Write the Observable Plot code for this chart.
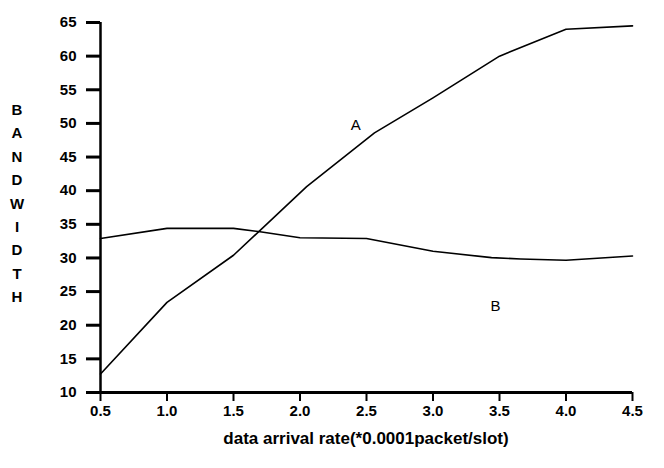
<!DOCTYPE html>
<html>
<head>
<meta charset="utf-8">
<script src="https://cdn.jsdelivr.net/npm/d3@7"></script>
<script src="https://cdn.jsdelivr.net/npm/@observablehq/plot@0.6"></script>
<style>
  html, body { margin: 0; padding: 0; background: #fff; }
  #wrap { position: relative; width: 664px; height: 468px; font-family: "Liberation Sans", Arial, sans-serif; }
  #ylab { position: absolute; left: 9px; top: 98px; width: 16px; text-align: center; font-size: 15px; font-weight: bold; line-height: 23.4px; color: #000; }
  #xlab { position: absolute; left: 100px; width: 532px; top: 429px; text-align: center; font-size: 17px; font-weight: bold; color: #000; }
</style>
</head>
<body>
<div id="wrap"><div id="ylab"></div><div id="xlab"></div></div>
<script>
// Data
const rates = [0.5, 1.0, 1.5, 2.05, 2.56, 3.0, 3.5, 4.0, 4.5];
const bandwidthA = [12.75, 23.4, 30.4, 40.6, 48.6, 53.8, 60.0, 64.0, 64.5];
const ratesB = [0.5, 1.0, 1.5, 1.7, 2.0, 2.5, 3.0, 3.44, 3.66, 4.0, 4.5];
const bandwidthB = [32.9, 34.4, 34.4, 33.9, 33.0, 32.9, 31.0, 30.05, 29.85, 29.65, 30.3];
const xTicks = [0.5, 1.0, 1.5, 2.0, 2.5, 3.0, 3.5, 4.0, 4.5];
const yTicks = [10, 15, 20, 25, 30, 35, 40, 45, 50, 55, 60, 65];
const seriesNames = ["A", "B"];
const labelX = [2.42, 3.47];
const labelY = [49.7, 22.9];
const yTitle = "BANDWIDTH";
const xTitle = "data arrival rate(*0.0001packet/slot)";

const dataA = rates.map((r, i) => ({x: r, y: bandwidthA[i]}));
const dataB = ratesB.map((r, i) => ({x: r, y: bandwidthB[i]}));
const labels = seriesNames.map((n, i) => ({name: n, x: labelX[i], y: labelY[i]}));

const chart = Plot.plot({
  width: 664,
  height: 468,
  marginLeft: 100,
  marginRight: 32,
  marginTop: 22,
  marginBottom: 76,
  style: {fontFamily: "'Liberation Sans', Arial, sans-serif", fontSize: "15px", fontWeight: "bold", color: "#000", background: "#fff", overflow: "visible"},
  x: {domain: [0.5, 4.5]},
  y: {domain: [10, 65]},
  marks: [
    Plot.axisY({ticks: yTicks, tickSize: 14, tickPadding: 10, strokeWidth: 3, label: null, tickFormat: d => String(d)}),
    Plot.axisX({ticks: xTicks, tickSize: 9, tickPadding: 4, strokeWidth: 2, tickFormat: d => d.toFixed(1), label: null}),
    Plot.ruleX([0.5], {strokeWidth: 2.5}),
    Plot.ruleY([10], {strokeWidth: 3}),
    Plot.line(dataA, {x: "x", y: "y", stroke: "#000", strokeWidth: 1.6}),
    Plot.line(dataB, {x: "x", y: "y", stroke: "#000", strokeWidth: 1.6}),
    Plot.text(labels, {x: "x", y: "y", text: "name", fill: "#000", fontSize: 15, fontWeight: "normal"})
  ]
});
document.getElementById("wrap").prepend(chart);
chart.style.position = "absolute";
chart.style.left = "0";
chart.style.top = "0";
document.getElementById("ylab").innerHTML = yTitle.split("").join("<br>");
document.getElementById("xlab").textContent = xTitle;
</script>
</body>
</html>
